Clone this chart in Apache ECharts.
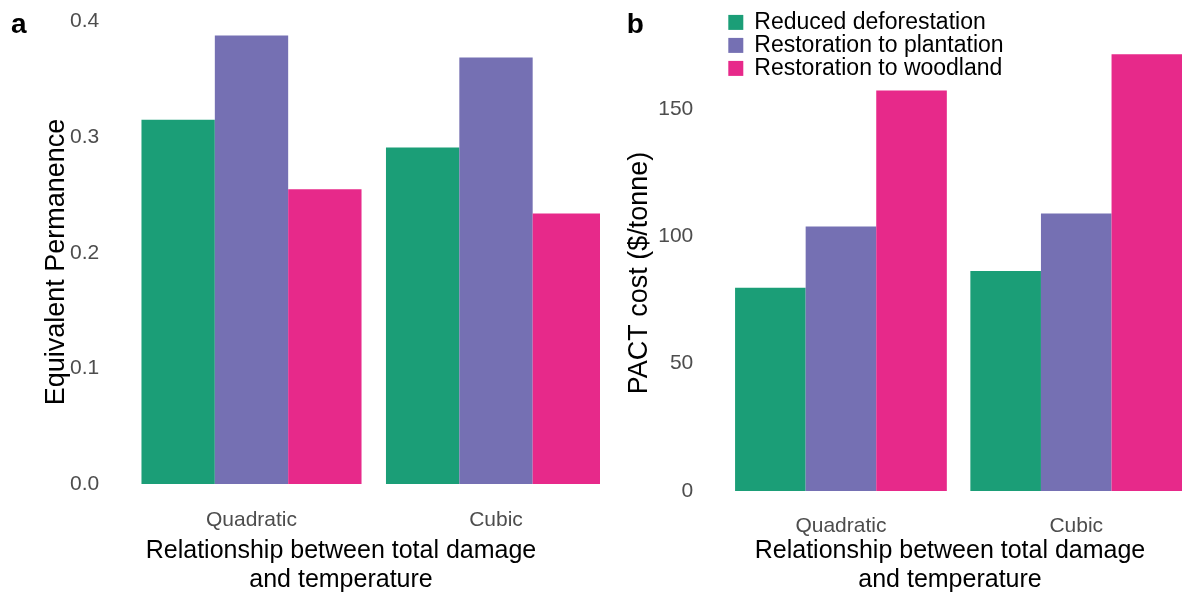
<!DOCTYPE html>
<html>
<head>
<meta charset="utf-8">
<script src="https://cdn.jsdelivr.net/npm/echarts@6/dist/echarts.min.js"></script>
<style>
  html, body { margin: 0; padding: 0; background: #fff; }
  #wrap { position: relative; width: 1182px; height: 597px; overflow: hidden; }
  #panelA { position: absolute; left: 0; top: 0; width: 600px; height: 597px; }
  #panelB { position: absolute; left: 600px; top: 0; width: 582px; height: 597px; }
</style>
</head>
<body>
<div id="wrap">
  <div id="panelA"></div>
  <div id="panelB"></div>
</div>
<script>
// Damage-function forms on the x axis
const categories = ['Quadratic', 'Cubic'];

// Project types (legend)
const seriesNames = ['Reduced deforestation', 'Restoration to plantation', 'Restoration to woodland'];
const seriesColors = ['#1B9E77', '#7570B3', '#E7298A'];

// Panel a: equivalent permanence
const permanenceDeforestation = [0.315, 0.291];
const permanencePlantation = [0.388, 0.369];
const permanenceWoodland = [0.255, 0.234];

// Panel b: PACT cost ($/tonne)
const costDeforestation = [79.8, 86.4];
const costPlantation = [103.9, 109.0];
const costWoodland = [157.3, 171.5];

// Tick settings
const permanenceTicks = { min: 0, max: 0.41, interval: 0.1 };
const costTicks = { min: 0, max: 180, interval: 50 };

const FONT = "'Liberation Sans', Arial, Helvetica, sans-serif";
const xTitle = 'Relationship between total damage\nand temperature';

function barSeries(values) {
  return values.map((vals, i) => ({
    name: seriesNames[i],
    type: 'bar',
    data: vals,
    barGap: '0%',
    barCategoryGap: '10%',
    itemStyle: { color: seriesColors[i] },
    emphasis: { disabled: true }
  }));
}

function baseAxes(ticks, fmt, labelMargin) {
  return {
    xAxis: {
      type: 'category',
      data: categories,
      axisLine: { show: false },
      axisTick: { show: false },
      axisLabel: { color: '#4D4D4D', fontSize: 21, fontFamily: FONT, margin: labelMargin }
    },
    yAxis: {
      type: 'value',
      min: ticks.min,
      max: ticks.max,
      interval: ticks.interval,
      splitLine: { show: false },
      axisLine: { show: false },
      axisTick: { show: false },
      axisLabel: {
        color: '#4D4D4D', fontSize: 21, fontFamily: FONT, margin: 30,
        showMaxLabel: false, formatter: fmt
      }
    }
  };
}

function textEl(text, x, y, opts) {
  return Object.assign({
    type: 'text',
    x: x, y: y,
    silent: true,
    style: Object.assign({
      text: text,
      fill: '#000',
      fontFamily: FONT,
      align: 'center',
      verticalAlign: 'middle'
    }, opts.style || {})
  }, opts.el || {});
}

// ---- Panel a ----
const chartA = echarts.init(document.getElementById('panelA'), null, { renderer: 'canvas' });
const axesA = baseAxes(permanenceTicks, v => v.toFixed(1), 26);
chartA.setOption({
  animation: false,
  grid: { left: 129.25, top: 10.04, width: 489, height: 473.96, outerBoundsMode: 'none' },
  xAxis: axesA.xAxis,
  yAxis: axesA.yAxis,
  series: barSeries([permanenceDeforestation, permanencePlantation, permanenceWoodland]),
  graphic: [
    textEl('a', 11, 25, { style: { fontSize: 28, fontWeight: 'bold', align: 'left' } }),
    textEl('Equivalent Permanence', 57, 262, { style: { fontSize: 27 }, el: { rotation: Math.PI / 2 } }),
    textEl(xTitle, 341, 565.5, { style: { fontSize: 25, lineHeight: 29 } })
  ]
});

// ---- Panel b ----
const chartB = echarts.init(document.getElementById('panelB'), null, { renderer: 'canvas' });
const axesB = baseAxes(costTicks, v => String(v), 25);
chartB.setOption({
  animation: false,
  grid: { left: 123.3, top: 32.6, width: 470.6, height: 458.4, outerBoundsMode: 'none' },
  legend: {
    orient: 'vertical',
    left: 128.3,
    top: 10.9,
    padding: 0,
    itemGap: 0,
    itemWidth: 15,
    itemHeight: 15,
    icon: 'rect',
    selectedMode: false,
    data: seriesNames,
    textStyle: { color: '#000', fontSize: 23, fontFamily: FONT, lineHeight: 21.6, padding: [0, 0, 0, 6] }
  },
  xAxis: axesB.xAxis,
  yAxis: axesB.yAxis,
  series: barSeries([costDeforestation, costPlantation, costWoodland]),
  graphic: [
    textEl('b', 26.7, 25, { style: { fontSize: 28, fontWeight: 'bold', align: 'left' } }),
    textEl('PACT cost ($/tonne)', 40, 273, { style: { fontSize: 27 }, el: { rotation: Math.PI / 2 } }),
    textEl(xTitle, 350, 565.5, { style: { fontSize: 25, lineHeight: 29 } })
  ]
});
</script>
</body>
</html>
